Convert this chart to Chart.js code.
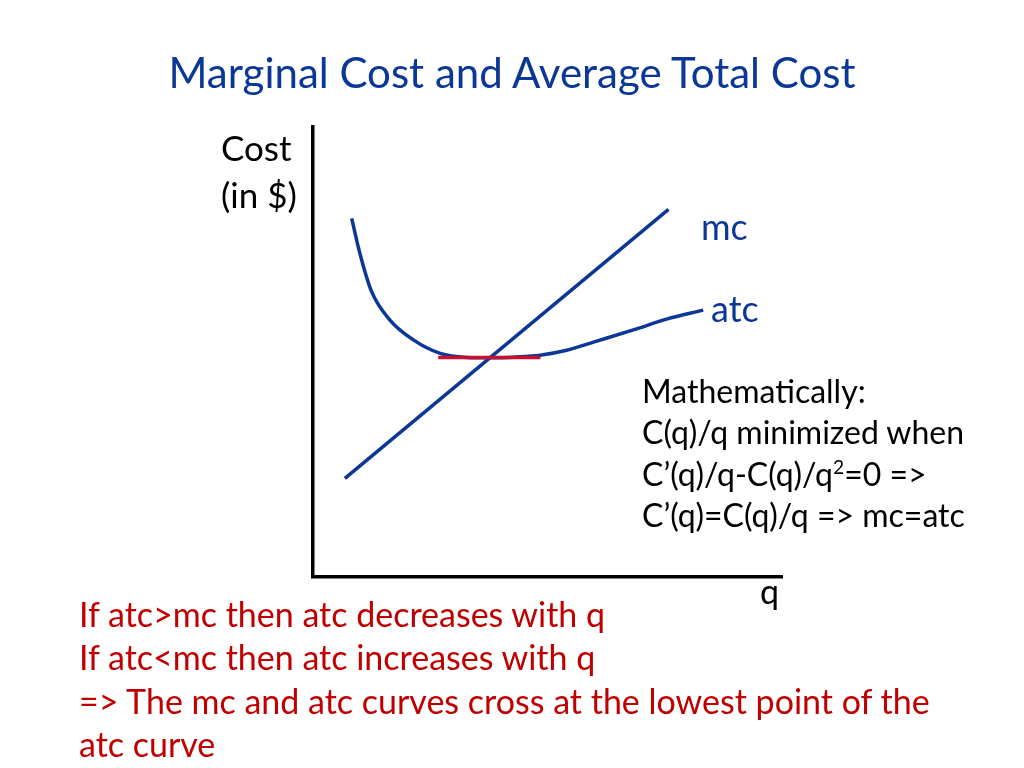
<!DOCTYPE html>
<html>
<head>
<meta charset="utf-8">
<script src="https://cdn.jsdelivr.net/npm/chart.js@4.4.1/dist/chart.umd.min.js"></script>
<style>
  html, body { margin: 0; padding: 0; background: #fff; }
  #wrap { position: relative; width: 1024px; height: 768px; overflow: hidden; font-family: Lato, "Open Sans", sans-serif; }
  #chart { position: absolute; left: 0; top: 0; }
  .txt { position: absolute; white-space: nowrap; }
  .blue { color: #0b3797; }
  .red { color: #c00000; }
  sup { font-size: 60%; line-height: 0; vertical-align: 0.6em; }
</style>
</head>
<body>
<div id="wrap">
  <canvas id="chart" width="1024" height="768"></canvas>
  <div class="txt blue" style="left:0; width:1024px; text-align:center; top:48px; font-size:42px; line-height:48px;">Marginal Cost and Average Total Cost</div>
  <div class="txt" style="left:221px; top:124px; font-size:35px; line-height:47px;">Cost<br>(in $)</div>
  <div class="txt blue" style="left:701px; top:206px; font-size:36px; line-height:40px;">mc</div>
  <div class="txt blue" style="left:711px; top:288px; font-size:36px; line-height:40px;">atc</div>
  <div class="txt" style="left:760px; top:571px; font-size:34px; line-height:40px;">q</div>
  <div class="txt" style="left:642px; top:370px; font-size:32px; line-height:41.3px;">Mathematically:<br>C(q)/q minimized when<br>C’(q)/q-C(q)/q<sup>2</sup>=0 =&gt;<br>C’(q)=C(q)/q =&gt; mc=atc</div>
  <div class="txt red" style="left:79px; top:592px; font-size:34px; line-height:43.3px;">If atc&gt;mc then atc decreases with q<br>If atc&lt;mc then atc increases with q<br>=&gt; The mc and atc curves cross at the lowest point of the<br>atc curve</div>
</div>
<script>
// quantity / cost values (axis units 0-100)
var qMc = [6.8, 75.8];
var costMc = [21.9, 81.7];

var qAtc = [8.25, 10.0, 12.5, 16.4, 21.4, 27.1, 32.8, 37.7, 43.4, 48.4, 54.1, 59.8, 68.3, 75.4, 83.2];
var costAtc = [79.7, 71.9, 63.4, 57.1, 52.7, 49.7, 48.8, 48.7, 48.9, 49.3, 50.4, 52.2, 54.9, 57.3, 59.3];

var qTangent = [26.7, 48.5];
var costTangent = [48.8, 48.8];

function toPoints(xs, ys) {
    return xs.map(function (x, i) { return { x: x, y: ys[i] }; });
}

var blue = '#0b3797';
var red = '#c8102e';

var ctx = document.getElementById('chart').getContext('2d');
var chart = new Chart(ctx, {
    type: 'scatter',
    data: {
        datasets: [{
            label: 'tangent',
            data: toPoints(qTangent, costTangent),
            showLine: true,
            borderColor: red,
            borderWidth: 3.5,
            pointRadius: 0,
            order: 0
        }, {
            label: 'mc',
            data: toPoints(qMc, costMc),
            showLine: true,
            borderColor: blue,
            borderWidth: 3.5,
            pointRadius: 0,
            order: 1
        }, {
            label: 'atc',
            data: toPoints(qAtc, costAtc),
            showLine: true,
            borderColor: blue,
            borderWidth: 3.5,
            pointRadius: 0,
            cubicInterpolationMode: 'monotone',
            order: 1
        }]
    },
    options: {
        responsive: false,
        animation: false,
        clip: false,
        layout: {
            padding: { left: 305, top: 127, right: 242, bottom: 183 }
        },
        plugins: {
            legend: { display: false },
            tooltip: { enabled: false }
        },
        scales: {
            x: {
                type: 'linear',
                min: 0,
                max: 100,
                ticks: { display: false },
                grid: { display: false },
                border: { display: true, color: '#000', width: 3.5 }
            },
            y: {
                type: 'linear',
                min: 0,
                max: 100,
                ticks: { display: false },
                grid: { display: false },
                border: { display: true, color: '#000', width: 3.5 }
            }
        }
    }
});
</script>
</body>
</html>
